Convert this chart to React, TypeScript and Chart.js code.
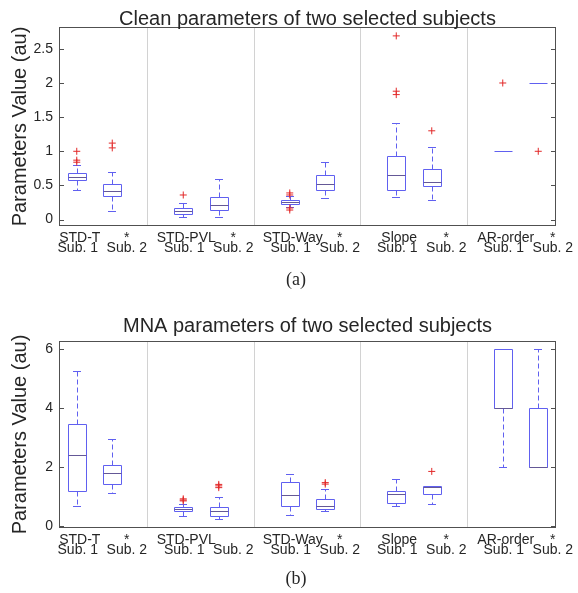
import React, { useEffect, useRef } from 'react';
import { Chart, registerables } from 'chart.js';

Chart.register(...registerables);

const SANS = '"Liberation Sans", Arial, Helvetica, sans-serif';
const SERIF = '"Liberation Serif", "Times New Roman", serif';

// shared category layout
const boxPositions = [1, 2, 4, 5, 7, 8, 10, 11, 13, 14];
const dividerPositions = [3, 6, 9, 12];
const subjectLabels = ['Sub. 1', 'Sub. 2'];
const yAxisTitle = 'Parameters Value (au)';

// (a) Clean parameters
const aTitle = 'Clean parameters of two selected subjects';
const aCaption = '(a)';
const aGroupNames = ['STD-T', 'STD-PVL', 'STD-Way', 'Slope', 'AR-order'];
const aGroupMarks = ['*', '*', '*', '*', '*'];
const aYTicks = [0, 0.5, 1, 1.5, 2, 2.5];
const aLow = [0.44, 0.13, 0.035, 0.045, 0.19, 0.31, 0.33, 0.29, 1, 2];
const aQ1 = [0.575, 0.35, 0.08, 0.14, 0.23, 0.44, 0.44, 0.485, 1, 2];
const aMed = [0.62, 0.42, 0.12, 0.22, 0.26, 0.525, 0.66, 0.55, 1, 2];
const aQ3 = [0.675, 0.525, 0.17, 0.33, 0.29, 0.66, 0.93, 0.74, 1, 2];
const aHigh = [0.8, 0.7, 0.25, 0.6, 0.34, 0.84, 1.42, 1.06, 1, 2];
const aOut = [[1.0, 0.87, 0.84], [1.12, 1.05], [0.36], [], [0.39, 0.36, 0.17, 0.14], [], [2.69, 1.88, 1.83], [1.3], [2], [1]];

// (b) MNA parameters
const bTitle = 'MNA parameters of two selected subjects';
const bCaption = '(b)';
const bGroupNames = ['STD-T', 'STD-PVL', 'STD-Way', 'Slope', 'AR-order'];
const bGroupMarks = ['*', '', '*', '*', '*'];
const bYTicks = [0, 2, 4, 6];
const bLow = [0.68, 1.11, 0.34, 0.24, 0.36, 0.52, 0.67, 0.75, 2, 2];
const bQ1 = [1.18, 1.41, 0.51, 0.34, 0.67, 0.58, 0.79, 1.08, 4, 2];
const bMed = [2.4, 1.79, 0.57, 0.52, 1.04, 0.69, 1.08, 1.33, 4, 2];
const bQ3 = [3.45, 2.06, 0.63, 0.63, 1.48, 0.9, 1.2, 1.36, 6, 4];
const bHigh = [5.25, 2.95, 0.75, 0.99, 1.75, 1.25, 1.59, 1.36, 6, 6];
const bOut = [[], [], [0.92, 0.88, 0.85], [1.41, 1.36, 1.3], [], [1.47, 1.42], [], [1.85], [], []];

const BOX_COLOR = 'rgb(96,96,240)';
const MED_COLOR = 'rgb(100,88,150)';
const OUT_COLOR = 'rgb(226,40,40)';
const TEXT_COLOR = '#262626';
const FRAME_COLOR = '#505050';

type Cfg = {
  title: string; caption: string; groupNames: string[]; groupMarks: string[]; yTicks: number[];
  low: number[]; q1: number[]; med: number[]; q3: number[]; high: number[]; out: number[][];
  yMin: number; yMax: number; padTop: number; xHeight: number; titleGap: number;
  captionY: number;
};

function buildChart(canvas: HTMLCanvasElement, c: Cfg) {
  const outPoints: { x: number; y: number }[] = [];
  c.out.forEach((vals, i) => vals.forEach((v) => outPoints.push({ x: boxPositions[i], y: v })));

  const crisp = (v: number) => Math.round(v) + 0.5;

  const plugin = {
    id: 'boxdraw',
    beforeDatasetsDraw(chart: any) {
      const { ctx, scales } = chart;
      const xs = scales.x, ys = scales.y;
      ctx.save();
      ctx.lineWidth = 1;
      boxPositions.forEach((pos, i) => {
        const cx = xs.getPixelForValue(pos);
        const hw = xs.getPixelForValue(pos + 0.26) - cx;
        const cw = hw * 0.45;
        const yl = crisp(ys.getPixelForValue(c.low[i]));
        const y1 = crisp(ys.getPixelForValue(c.q1[i]));
        const ym = crisp(ys.getPixelForValue(c.med[i]));
        const y3 = crisp(ys.getPixelForValue(c.q3[i]));
        const yh = crisp(ys.getPixelForValue(c.high[i]));
        const x = crisp(cx);
        ctx.strokeStyle = BOX_COLOR;
        ctx.setLineDash([5, 3]);
        ctx.beginPath();
        if (yh < y3) { ctx.moveTo(x, y3); ctx.lineTo(x, yh); }
        if (yl > y1) { ctx.moveTo(x, y1); ctx.lineTo(x, yl); }
        ctx.stroke();
        ctx.setLineDash([]);
        ctx.beginPath();
        ctx.moveTo(Math.round(cx - cw), yh); ctx.lineTo(Math.round(cx + cw), yh);
        ctx.moveTo(Math.round(cx - cw), yl); ctx.lineTo(Math.round(cx + cw), yl);
        ctx.stroke();
        const bl = crisp(cx - hw), br = crisp(cx + hw);
        ctx.beginPath();
        if (y3 === y1) {
          ctx.moveTo(bl, y1); ctx.lineTo(br, y1);
        } else {
          ctx.rect(bl, y3, br - bl, y1 - y3);
        }
        ctx.stroke();
        if (y3 !== y1) {
          ctx.strokeStyle = MED_COLOR;
          ctx.beginPath();
          ctx.moveTo(bl, ym); ctx.lineTo(br, ym);
          ctx.stroke();
        }
      });
      ctx.restore();
    },
    afterDraw(chart: any) {
      const { ctx, chartArea: a, scales } = chart;
      const xs = scales.x, ys = scales.y;
      ctx.save();
      ctx.strokeStyle = FRAME_COLOR;
      ctx.lineWidth = 1;
      ctx.strokeRect(a.left + 0.5, a.top + 0.5, a.right - a.left - 1, a.bottom - a.top - 1);
      ctx.beginPath();
      c.yTicks.forEach((t) => {
        const y = crisp(ys.getPixelForValue(t));
        ctx.moveTo(a.left, y); ctx.lineTo(a.left + 5, y);
        ctx.moveTo(a.right, y); ctx.lineTo(a.right - 5, y);
      });
      ctx.stroke();
      ctx.fillStyle = TEXT_COLOR;
      ctx.font = '20px ' + SANS;
      ctx.textAlign = 'center';
      ctx.textBaseline = 'alphabetic';
      ctx.fillText(c.title, (a.left + a.right) / 2, a.top - c.titleGap);
      // category labels: two text rows, MATLAB-style with offset second column
      ctx.font = '14px ' + SANS;
      c.groupNames.forEach((name, g) => {
        const s1 = boxPositions[2 * g];
        const p1 = xs.getPixelForValue(s1);
        const p2 = xs.getPixelForValue(s1 + 1.41);
        ctx.fillText(name, p1 + 3, a.bottom + 16);
        if (c.groupMarks[g]) ctx.fillText(c.groupMarks[g], p2, a.bottom + 16);
        ctx.fillText(subjectLabels[0], p1 + 1, a.bottom + 25.5);
        ctx.fillText(subjectLabels[1], p2, a.bottom + 25.5);
      });
      ctx.font = '18px ' + SERIF;
      ctx.fillText(c.caption, 296, c.captionY);
      ctx.restore();
    },
  };

  return new Chart(canvas, {
    type: 'scatter',
    data: {
      datasets: [{
        data: outPoints,
        pointStyle: 'cross',
        pointRadius: 3.5,
        borderColor: OUT_COLOR,
        backgroundColor: OUT_COLOR,
        borderWidth: 1,
        showLine: false,
      }],
    },
    options: {
      animation: false,
      responsive: false,
      devicePixelRatio: 1,
      events: [],
      layout: { padding: { left: 0, right: 22, top: c.padTop, bottom: 0 } },
      plugins: { legend: { display: false }, title: { display: false }, tooltip: { enabled: false } },
      scales: {
        x: {
          type: 'linear',
          min: 0.5,
          max: 14.5,
          afterBuildTicks: (s: any) => { s.ticks = dividerPositions.map((v) => ({ value: v })); },
          ticks: { display: false },
          grid: { color: '#d2d2d2', lineWidth: 1, drawTicks: false },
          border: { display: false },
          afterFit: (s: any) => { s.height = c.xHeight; },
        },
        y: {
          type: 'linear',
          min: c.yMin,
          max: c.yMax,
          afterBuildTicks: (s: any) => { s.ticks = c.yTicks.map((v) => ({ value: v })); },
          ticks: { padding: 6, color: TEXT_COLOR, font: { family: SANS, size: 14 }, callback: (v: any) => String(v) },
          grid: { display: false, drawTicks: false },
          border: { display: false },
          title: { display: true, text: yAxisTitle, color: TEXT_COLOR, font: { family: SANS, size: 20 }, padding: { top: 8, bottom: 0 } },
          afterFit: (s: any) => { s.width = 59; },
        },
      },
    },
    plugins: [plugin],
  } as any);
}

const cfgA: Cfg = {
  title: aTitle, caption: aCaption, groupNames: aGroupNames, groupMarks: aGroupMarks, yTicks: aYTicks,
  low: aLow, q1: aQ1, med: aMed, q3: aQ3, high: aHigh, out: aOut,
  yMin: -0.094, yMax: 2.82, padTop: 27, xHeight: 67, titleGap: 2.5, captionY: 285,
};
const cfgB: Cfg = {
  title: bTitle, caption: bCaption, groupNames: bGroupNames, groupMarks: bGroupMarks, yTicks: bYTicks,
  low: bLow, q1: bQ1, med: bMed, q3: bQ3, high: bHigh, out: bOut,
  yMin: -0.068, yMax: 6.27, padTop: 48, xHeight: 65, titleGap: 9, captionY: 291,
};

export default function App() {
  const refA = useRef<HTMLCanvasElement>(null);
  const refB = useRef<HTMLCanvasElement>(null);
  useEffect(() => {
    const ca = buildChart(refA.current!, cfgA);
    const cb = buildChart(refB.current!, cfgB);
    return () => { ca.destroy(); cb.destroy(); };
  }, []);
  return (
    <div style={{ position: 'fixed', left: 0, top: 0, width: 578, height: 593, background: '#fff' }}>
      <canvas ref={refA} width={578} height={293} style={{ position: 'absolute', left: 0, top: 0, width: 578, height: 293 }} />
      <canvas ref={refB} width={578} height={300} style={{ position: 'absolute', left: 0, top: 293, width: 578, height: 300 }} />
    </div>
  );
}
